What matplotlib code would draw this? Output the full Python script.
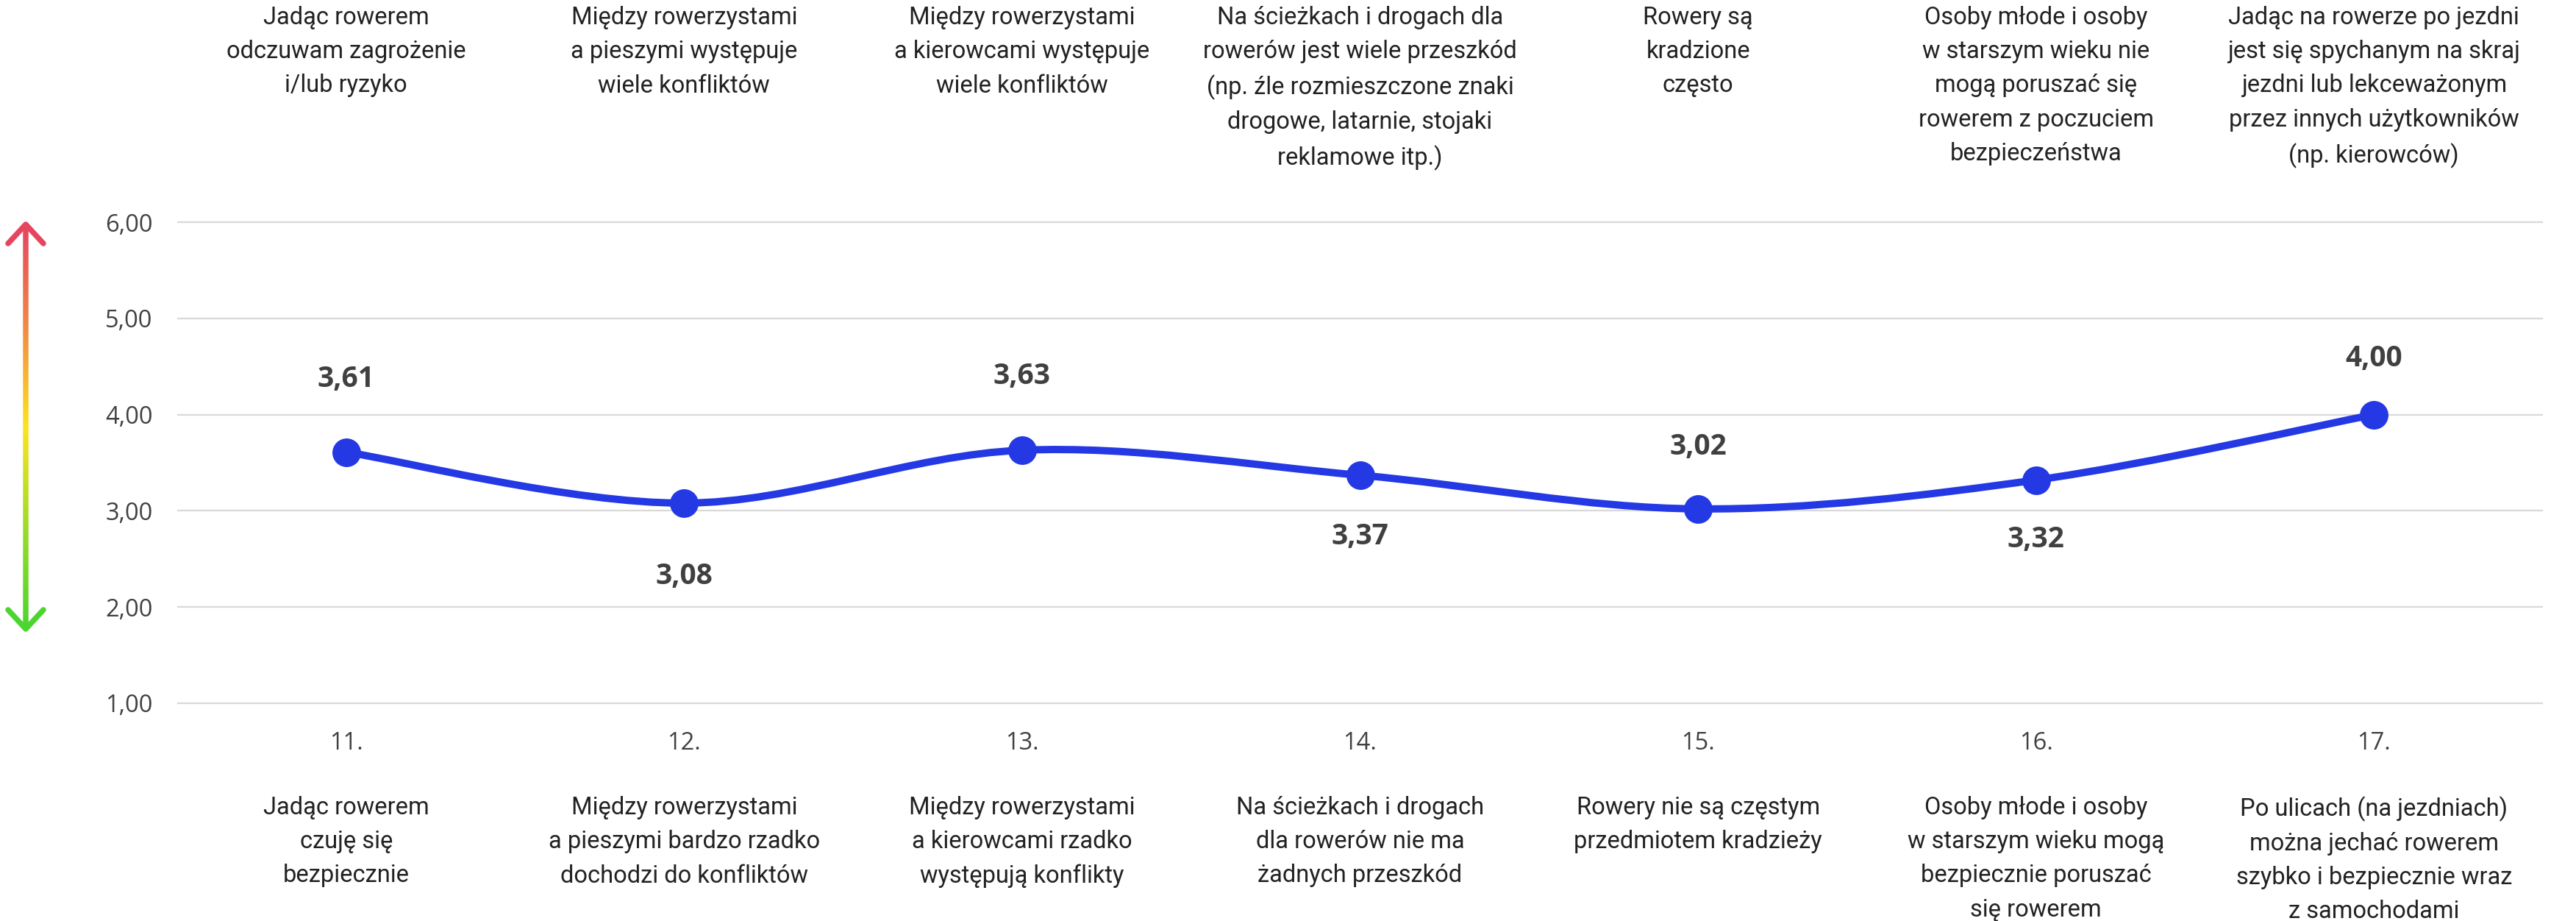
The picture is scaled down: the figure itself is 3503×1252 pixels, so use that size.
import numpy as np
import matplotlib.pyplot as plt
import matplotlib.transforms as mtransforms
from matplotlib.path import Path
from matplotlib.patches import PathPatch
from matplotlib.collections import LineCollection
from matplotlib.colors import LinearSegmentedColormap

numbers = ["11.", "12.", "13.", "14.", "15.", "16.", "17."]
values = [3.61, 3.08, 3.63, 3.37, 3.02, 3.32, 4.00]
top_labels = [
    "Jadąc rowerem\nodczuwam zagrożenie\ni/lub ryzyko",
    "Między rowerzystami\na pieszymi występuje\nwiele konfliktów",
    "Między rowerzystami\na kierowcami występuje\nwiele konfliktów",
    "Na ścieżkach i drogach dla\nrowerów jest wiele przeszkód\n(np. źle rozmieszczone znaki\ndrogowe, latarnie, stojaki\nreklamowe itp.)",
    "Rowery są\nkradzione\nczęsto",
    "Osoby młode i osoby\nw starszym wieku nie\nmogą poruszać się\nrowerem z poczuciem\nbezpieczeństwa",
    "Jadąc na rowerze po jezdni\njest się spychanym na skraj\njezdni lub lekceważonym\nprzez innych użytkowników\n(np. kierowców)",
]
bottom_labels = [
    "Jadąc rowerem\nczuję się\nbezpiecznie",
    "Między rowerzystami\na pieszymi bardzo rzadko\ndochodzi do konfliktów",
    "Między rowerzystami\na kierowcami rzadko\nwystępują konflikty",
    "Na ścieżkach i drogach\ndla rowerów nie ma\nżadnych przeszkód",
    "Rowery nie są częstym\nprzedmiotem kradzieży",
    "Osoby młode i osoby\nw starszym wieku mogą\nbezpiecznie poruszać\nsię rowerem",
    "Po ulicach (na jezdniach)\nmożna jechać rowerem\nszybko i bezpiecznie wraz\nz samochodami",
]
yticks = [1, 2, 3, 4, 5, 6]
# label distance from point (px), + above / - below
label_offsets = [99, -100, 100, -83, 84, -81, 76]

BLUE = "#2439E4"
W, H = 3503, 1252

fig = plt.figure(figsize=(W / 100, H / 100), dpi=100)
ax = fig.add_axes([241 / W, 1 - 962.5 / H, 3217 / W, 667 / H])
ax.set_xlim(-0.5, 6.5)
ax.set_ylim(0.95, 6.05)

ax.set_yticks(yticks)
ax.set_yticklabels([f"{v:.2f}".replace(".", ",") for v in yticks],
                   fontsize=23.5, color="#404040", family="Open Sans")
ax.set_xticks(range(len(numbers)))
ax.set_xticklabels(numbers, fontsize=23.5, color="#404040", family="Open Sans")
ax.tick_params(axis="y", length=0, pad=24)
ax.tick_params(axis="x", length=0, pad=23)
ax.yaxis.grid(True, color="#D9D9D9", lw=1.6)
ax.set_axisbelow(True)
for s in ax.spines.values():
    s.set_visible(False)

# smoothed line (Catmull-Rom bezier through the points)
x = np.arange(len(values))
pts = np.column_stack([x, values])
ext = np.vstack([pts[0], pts, pts[-1]])
verts = [pts[0]]
codes = [Path.MOVETO]
for i in range(len(values) - 1):
    p0, p1, p2, p3 = ext[i], ext[i + 1], ext[i + 2], ext[i + 3]
    verts += [p1 + (p2 - p0) / 6, p2 - (p3 - p1) / 6, p2]
    codes += [Path.CURVE4] * 3
ax.add_patch(PathPatch(Path(verts, codes), facecolor="none", edgecolor=BLUE,
                       lw=7.2, capstyle="round", joinstyle="round", zorder=3))
ax.plot(x, values, "o", ms=27, color=BLUE, zorder=4)

for i, v in enumerate(values):
    ax.annotate(f"{v:.2f}".replace(".", ","), (i, v),
                xytext=(0, label_offsets[i] * 0.72), textcoords="offset points",
                ha="center", va="center", fontsize=28, fontweight="bold",
                color="#404040", family="Open Sans")

trans = mtransforms.blended_transform_factory(ax.transData, fig.transFigure)
for i in range(len(numbers)):
    ax.text(i, 1 - 8 / H, top_labels[i], ha="center", va="top", transform=trans,
            fontsize=23.5, family="Roboto", color="#222222", linespacing=1.57)
    ax.text(i, 1 - 1082 / H, bottom_labels[i], ha="center", va="top", transform=trans,
            fontsize=23.5, family="Roboto", color="#222222", linespacing=1.57)

# gradient arrow on the left (pixel coordinates)
axa = fig.add_axes([0, 0, 1, 1])
axa.set_xlim(0, W)
axa.set_ylim(H, 0)
axa.axis("off")
axa.patch.set_visible(False)
ax_x, top, bot = 35, 305, 855
cmap = LinearSegmentedColormap.from_list(
    "risk", ["#E6455F", "#F08A45", "#FCE31F", "#9EDB2A", "#4BD52E"])
ys = np.linspace(top + 3, bot - 3, 200)
segs = [[(ax_x, ys[k]), (ax_x, ys[k + 1])] for k in range(len(ys) - 1)]
lc = LineCollection(segs, colors=cmap(np.linspace(0, 1, len(segs))), lw=5.4,
                    capstyle="butt")
axa.add_collection(lc)
axa.plot([ax_x - 24, ax_x, ax_x + 24], [top + 26, top, top + 26], color="#E6455F",
         lw=5.4, solid_capstyle="round", solid_joinstyle="round")
axa.plot([ax_x - 24, ax_x, ax_x + 24], [bot - 26, bot, bot - 26], color="#4BD52E",
         lw=5.4, solid_capstyle="round", solid_joinstyle="round")

fig.savefig("out.png", dpi=100)
